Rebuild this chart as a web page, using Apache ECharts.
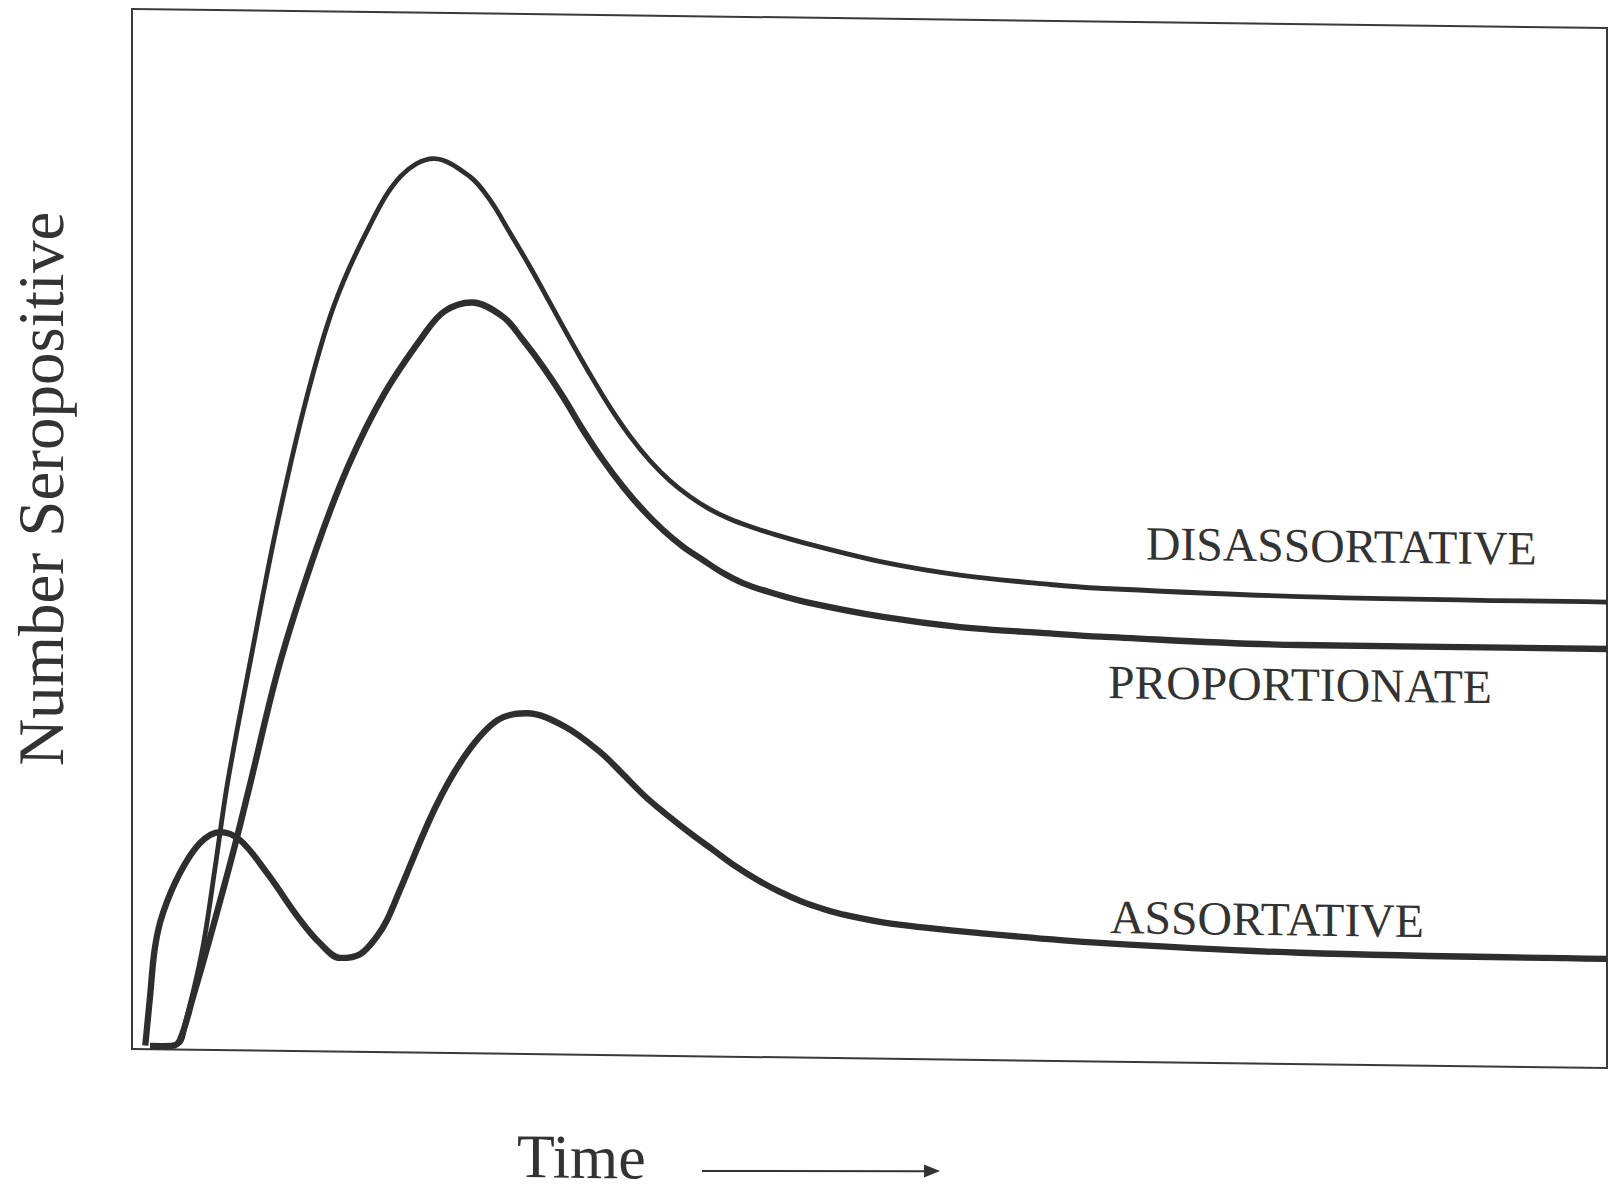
<!DOCTYPE html>
<html>
<head>
<meta charset="utf-8">
<script src="https://cdn.jsdelivr.net/npm/echarts@6/dist/echarts.min.js"></script>
<style>
  html, body { margin: 0; padding: 0; background: #ffffff; overflow: hidden; }
  #chart { width: 1608px; height: 1189px; transform: skewY(0.7386deg); transform-origin: 133px 0; }
</style>
</head>
<body>
<div id="chart"></div>
<script>
// ---- data (time in % of axis, number seropositive in % of axis) ----
const timeDisassortative = [1.22, 3.12, 3.66, 4.41, 4.95, 5.63, 6.51, 8.09, 9.76, 11.73, 13.66, 16.07, 18.24, 20.47, 22.92, 24.27, 25.63, 26.98, 28.34, 29.69, 31.05, 32.41, 33.76, 35.12, 36.47, 37.83, 39.19, 40.54, 41.9, 43.25, 45.69, 50.92, 56.14, 62.24, 65.63, 79.12, 100];
const valueDisassortative = [0.31, 0.54, 2.86, 7.19, 11.05, 17.51, 25.98, 37.93, 50.08, 62.23, 71.6, 79.33, 84.28, 85.99, 84.29, 82.08, 78.93, 75.71, 72.25, 68.8, 65.45, 62.3, 59.55, 57.2, 55.3, 53.8, 52.6, 51.7, 51.0, 50.4, 49.45, 47.75, 46.6, 45.8, 45.5, 44.95, 44.8];

const timeProportionate = [1.22, 2.71, 3.25, 4.14, 5.29, 6.85, 7.97, 10.03, 12.45, 14.63, 17.05, 19.72, 21.17, 23.05, 25.15, 26.51, 27.86, 29.22, 30.58, 31.93, 33.29, 34.64, 36.0, 37.36, 38.71, 40.07, 41.42, 43.25, 45.69, 50.92, 56.14, 62.24, 65.63, 79.12, 100];
const valueProportionate = [0.31, 0.34, 0.92, 5.08, 10.8, 19.0, 25.4, 37.3, 48.12, 56.23, 63.19, 68.91, 71.3, 72.2, 70.87, 68.65, 66.12, 63.25, 60.08, 57.21, 54.67, 52.46, 50.56, 48.98, 47.72, 46.5, 45.56, 44.7, 43.8, 42.47, 41.6, 41.1, 40.85, 40.29, 40.29];

const timeAssortative = [0.9, 1.22, 1.56, 2.1, 3.25, 4.61, 5.97, 7.32, 9.15, 11.39, 12.75, 14.1, 15.46, 16.59, 17.29, 18.17, 20.59, 22.71, 24.81, 26.78, 29.36, 31.8, 33.3, 34.81, 36.33, 37.83, 39.36, 40.88, 42.38, 43.86, 45.41, 46.92, 48.43, 51.46, 57.49, 65.63, 79.19, 100];
const valueAssortative = [0.35, 5.02, 9.84, 13.12, 16.98, 19.89, 20.97, 20.23, 17.09, 12.62, 10.39, 9.01, 9.4, 11.1, 12.72, 15.63, 23.67, 28.88, 32.09, 32.77, 31.53, 29.06, 27.0, 24.89, 23.1, 21.46, 19.9, 18.35, 17.05, 15.95, 15.0, 14.3, 13.75, 13.0, 12.2, 11.4, 10.7, 10.5];

const seriesNames = ['DISASSORTATIVE', 'PROPORTIONATE', 'ASSORTATIVE'];
const xAxisTitle = 'Time';
const yAxisTitle = 'Number Seropositive';

function pairs(xs, ys) { return xs.map((x, i) => [x, ys[i]]); }

const chart = echarts.init(document.getElementById('chart'), null, { renderer: 'svg' });
const serif = '"Liberation Serif", "Times New Roman", serif';
const ink = '#2e2e2e';

function label(text, x, y, size) {
  return {
    type: 'text', x: x, y: y, silent: true,
    style: { text: text, font: size + 'px ' + serif, fill: '#333333',
             align: 'left', verticalAlign: 'middle', textAlign: 'left', textVerticalAlign: 'middle' }
  };
}

chart.setOption({
  animation: false,
  backgroundColor: '#ffffff',
  grid: { left: 132, top: 9, width: 1475, height: 1040, show: true, borderColor: '#3a3a3a', borderWidth: 2, backgroundColor: 'transparent' },
  xAxis: { type: 'value', min: 0, max: 100, show: false },
  yAxis: { type: 'value', min: 0, max: 100, show: false },
  series: [
    { name: seriesNames[0], type: 'line', data: pairs(timeDisassortative, valueDisassortative), smooth: 0.35, symbol: 'none', silent: true,
      lineStyle: { color: ink, width: 4.8 } },
    { name: seriesNames[1], type: 'line', data: pairs(timeProportionate, valueProportionate), smooth: 0.35, symbol: 'none', silent: true,
      lineStyle: { color: ink, width: 6.3 } },
    { name: seriesNames[2], type: 'line', data: pairs(timeAssortative, valueAssortative), smooth: 0.35, symbol: 'none', silent: true,
      lineStyle: { color: ink, width: 6.3 } }
  ],
  graphic: [
    label(seriesNames[0], 1146, 530, 47.7),
    label(seriesNames[1], 1108, 669, 47.7),
    label(seriesNames[2], 1110, 904, 47.7),
    label(xAxisTitle, 517, 1151, 62),
    {
      type: 'text', x: 41.5, y: 490, rotation: Math.PI / 2, silent: true,
      style: { text: yAxisTitle, font: '65px ' + serif, fill: '#333333',
               align: 'center', verticalAlign: 'middle', textAlign: 'center', textVerticalAlign: 'middle' }
    },
    {
      type: 'polyline', silent: true,
      shape: { points: [[702, 1163.7], [928, 1160.9]] },
      style: { stroke: '#333333', lineWidth: 2, fill: null }
    },
    {
      type: 'polygon', silent: true,
      shape: { points: [[940, 1160.6], [924, 1154.2], [924, 1167.2]] },
      style: { fill: '#333333' }
    }
  ]
});
</script>
</body>
</html>
